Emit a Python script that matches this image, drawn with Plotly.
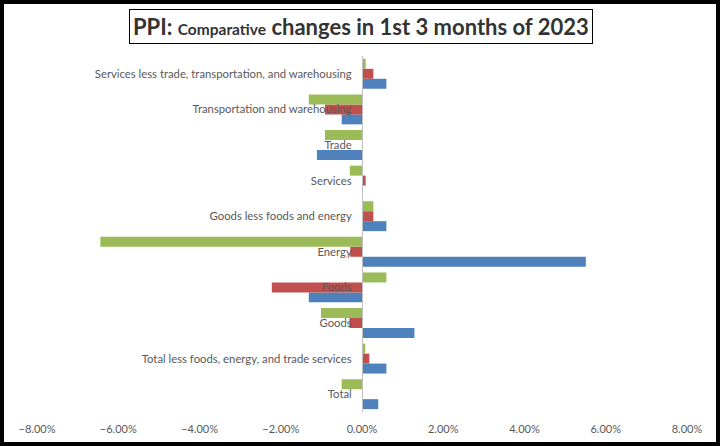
import plotly.graph_objects as go

categories = [
    "Total",
    "Total less foods, energy, and trade services",
    "Goods",
    "Foods",
    "Energy",
    "Goods less foods and energy",
    "Services",
    "Trade",
    "Transportation and warehousing",
    "Services less trade, transportation, and warehousing",
]
# values in percent
series1 = [0.40, 0.60, 1.29, -1.31, 5.51, 0.60, 0.00, -1.11, -0.50, 0.60]   # blue
series2 = [0.00, 0.18, -0.31, -2.22, -0.29, 0.28, 0.09, 0.00, -0.91, 0.28]  # red
series3 = [-0.50, 0.08, -1.01, 0.60, -6.44, 0.28, -0.30, -0.91, -1.31, 0.09]  # green
series_names = ["Month 1", "Month 2", "Month 3"]
colors = ["#4F81BD", "#C0504D", "#9BBB59"]
tick_vals = [-0.08, -0.06, -0.04, -0.02, 0.0, 0.02, 0.04, 0.06, 0.08]

W, H = 720, 446
L, R, T, B = 37, 33, 56, 34

fig = go.Figure()
for name, vals, c in zip(series_names, [series1, series2, series3], colors):
    fig.add_trace(go.Bar(
        y=categories, x=[v / 100 for v in vals], name=name, orientation="h",
        marker=dict(color=c, line=dict(width=0)),
    ))

pw = W - L - R
ph = H - T - B
fig.update_layout(
    width=W, height=H,
    margin=dict(l=L, r=R, t=T, b=B),
    barmode="group", bargap=0.16, bargroupgap=0,
    showlegend=False,
    plot_bgcolor="white", paper_bgcolor="white",
    font=dict(family="Lato, Carlito, sans-serif", color="#595959", size=11),
    xaxis=dict(range=[-0.08, 0.08], tickvals=tick_vals, tickformat=".2%",
               showgrid=False, zeroline=False, showline=False, ticks="",
               ticklabelstandoff=9,
               tickfont=dict(size=11, color="#595959")),
    yaxis=dict(type="category", anchor="free", position=0.5, side="left",
               showline=True, linecolor="#BFBFBF", linewidth=1,
               showgrid=False, zeroline=False, ticks="", ticklabelstandoff=8,
               tickfont=dict(size=11.3, color="#595959")),
    annotations=[dict(
        xref="paper", yref="paper",
        x=(361 - L) / pw, y=1 + (56 - 27) / ph, xanchor="center", yanchor="middle",
        text=('<span style="font-size:22px">PPI: </span>'
              '<span style="font-size:15.5px">Comparative</span>'
              '<span style="font-size:22px"> changes in 1st 3 months of 2023</span>'),
        showarrow=False,
        font=dict(family="Lato, Carlito, sans-serif", color="#333333", size=22, weight="bold"),
        bordercolor="black", borderwidth=1, borderpad=3, bgcolor="white",
    )],
    shapes=[dict(
        type="rect", xref="paper", yref="paper",
        x0=(2 - L) / pw, x1=(W - 2 - L) / pw,
        y0=-(B - 2) / ph, y1=1 + (T - 2) / ph,
        line=dict(color="black", width=4), fillcolor="rgba(0,0,0,0)",
    )],
)

fig.write_html("out.html", config={"displayModeBar": False},
               post_script="document.body.style.margin='0px';document.body.style.overflow='hidden';")
